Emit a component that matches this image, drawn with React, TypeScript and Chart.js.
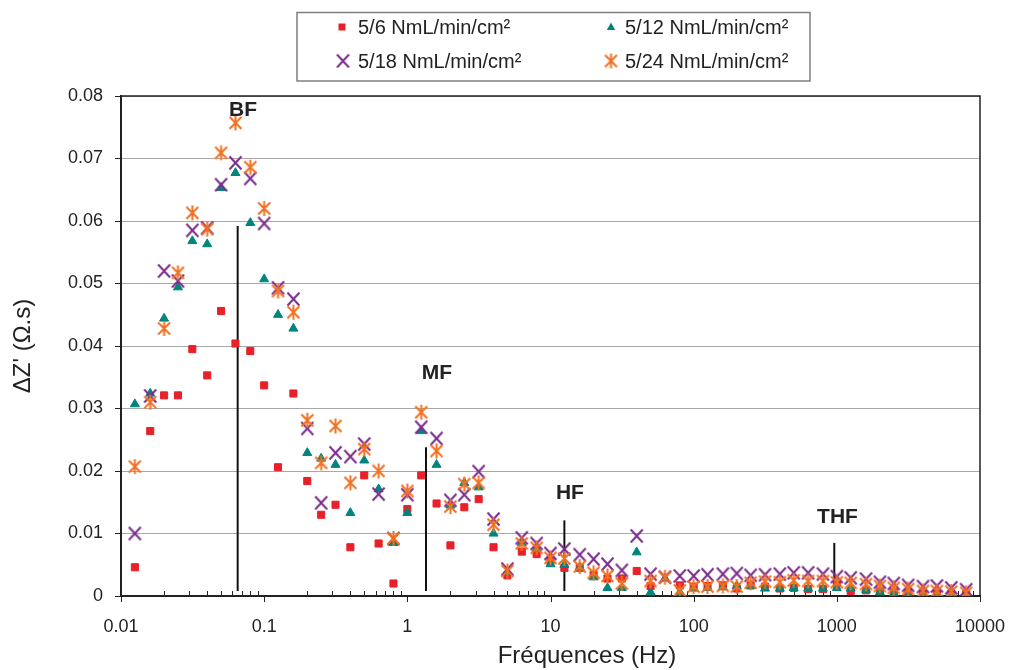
import React, { useEffect, useRef } from "react";
import { Chart, registerables } from "chart.js";

Chart.register(...registerables);

// ---------- data ----------
const frequencies = [
  0.0125, 0.016, 0.02, 0.025, 0.0315, 0.04, 0.05, 0.063, 0.08, 0.1,
  0.125, 0.16, 0.2, 0.25, 0.315, 0.4, 0.5, 0.63, 0.8, 1,
  1.25, 1.6, 2, 2.5, 3.15, 4, 5, 6.3, 8, 10,
  12.5, 16, 20, 25, 31.5, 40, 50, 63, 80, 100,
  125, 160, 200, 250, 315, 400, 500, 630, 800, 1000,
  1250, 1600, 2000, 2500, 3150, 4000, 5000, 6300, 8000,
];

const series5_6: (number | null)[] = [
  0.0046, 0.0264, 0.0321, 0.0321, 0.0395, 0.0353, 0.0456, 0.0404, 0.0392, 0.0337,
  0.0206, 0.0324, 0.0184, 0.013, 0.0146, 0.0078, 0.0193, 0.0084, 0.002, 0.0139,
  0.0193, 0.0148, 0.0081, 0.0142, 0.0155, 0.0078, 0.0033, 0.0071, 0.0067, 0.0056,
  0.0045, 0.0045, 0.0034, 0.0028, 0.0028, 0.004, 0.0016, null, 0.0017, 0.0015,
  0.0016, 0.0017, 0.0012, 0.0017, 0.0015, 0.0012, 0.0013, 0.0011, 0.0011, 0.002,
  0.0008, 0.0009, 0.0008, 0.0006, 0.0005, 0.0004, 0.0004, 0.0003, 0.0003,
];

const series5_12: (number | null)[] = [
  0.0307, 0.0324, 0.0444, 0.0494, 0.0568, 0.0563, 0.0653, 0.0677, 0.0597, 0.0507,
  0.045, 0.0428, 0.0229, 0.022, 0.021, 0.0133, 0.0217, 0.0171, 0.0085, 0.0133,
  0.0264, 0.021, 0.0145, 0.0181, 0.0174, 0.01, 0.0038, 0.0085, 0.0076, 0.0051,
  0.005, 0.0046, 0.003, 0.0013, 0.0013, 0.007, 0.0006, 0.0028, 0.0006, 0.0012,
  0.0013, 0.0014, 0.0016, 0.0016, 0.0012, 0.0012, 0.0013, 0.0012, 0.0012, 0.0013,
  0.0012, 0.001, 0.0006, 0.0004, 0.0001, 0.0, 0.0, 0.0001, 0.0002,
];

const series5_18: (number | null)[] = [
  0.01, 0.032, 0.052, 0.0504, 0.0585, 0.0589, 0.0658, 0.0693, 0.0668, 0.0596,
  0.0493, 0.0475, 0.0268, 0.0149, 0.0229, 0.0223, 0.0243, 0.0163, 0.0092, 0.0162,
  0.027, 0.0252, 0.0153, 0.0162, 0.0199, 0.0123, 0.0043, 0.0093, 0.0084, 0.0068,
  0.0075, 0.0066, 0.0059, 0.0051, 0.0041, 0.0096, 0.0035, 0.003, 0.0032, 0.0032,
  0.0034, 0.0035, 0.0036, 0.0033, 0.0034, 0.0035, 0.0037, 0.0037, 0.0035, 0.0031,
  0.0029, 0.0027, 0.0022, 0.002, 0.0017, 0.0015, 0.0016, 0.0013, 0.001,
];

const series5_24: (number | null)[] = [
  0.0207, 0.031, 0.0428, 0.0517, 0.0613, 0.0587, 0.0709, 0.0757, 0.0686, 0.062,
  0.0488, 0.0454, 0.0281, 0.0213, 0.0272, 0.0181, 0.0235, 0.02, 0.0092, 0.0168,
  0.0294, 0.0232, 0.0143, 0.0179, 0.0181, 0.0114, 0.004, 0.0084, 0.0077, 0.0061,
  0.006, 0.0047, 0.0037, 0.0032, 0.002, null, 0.0024, 0.003, 0.0009, 0.0015,
  0.0015, 0.0016, 0.0015, 0.0021, 0.0023, 0.0022, 0.0025, 0.0024, 0.0024, 0.0022,
  0.0021, 0.0019, 0.0016, 0.0013, 0.0011, 0.0008, 0.0008, 0.0007, 0.0005,
];

const seriesLabels = [
  "5/6 NmL/min/cm²",
  "5/12 NmL/min/cm²",
  "5/18 NmL/min/cm²",
  "5/24 NmL/min/cm²",
];

const xTickValues = [0.01, 0.1, 1, 10, 100, 1000, 10000];
const yTickValues = [0, 0.01, 0.02, 0.03, 0.04, 0.05, 0.06, 0.07, 0.08];

const bandNames = ["BF", "MF", "HF", "THF"];
const bandLineX = [0.0653, 1.35, 12.5, 960];
const bandLineBottom = [0.0008, 0.0008, 0.0008, 0.0008];
const bandLineTop = [0.0592, 0.0238, 0.0121, 0.0085];
const bandLabelX = [0.0711, 1.61, 13.66, 1011];
const bandLabelY = [0.0778, 0.0357, 0.0165, 0.0126];

const xTitle = "Fréquences (Hz)";
const yTitle = "ΔZ' (Ω.s)";

// ---------- styles ----------
const FONT = "'Liberation Sans', Arial, Helvetica, sans-serif";
const RED = "#e8202a";
const TEAL = "#00857c";
const PURPLE = "#7b2d8e";
const ORANGE = "#f37021";
const INK = "#222222";

function makeX(color: string, w = 13, h = 14, lw = 2) {
  const c = document.createElement("canvas");
  c.width = w + 2;
  c.height = h + 2;
  const ctx = c.getContext("2d")!;
  ctx.strokeStyle = color;
  ctx.lineWidth = lw;
  ctx.beginPath();
  ctx.moveTo(1.5, 1.5);
  ctx.lineTo(w + 0.5, h + 0.5);
  ctx.moveTo(w + 0.5, 1.5);
  ctx.lineTo(1.5, h + 0.5);
  ctx.stroke();
  return c;
}

function makeAsterisk(color: string, w = 13, h = 15, lw = 2) {
  const c = document.createElement("canvas");
  c.width = w + 2;
  c.height = h + 2;
  const ctx = c.getContext("2d")!;
  ctx.strokeStyle = color;
  ctx.lineWidth = lw;
  ctx.beginPath();
  ctx.moveTo(1.5, 2.5);
  ctx.lineTo(w + 0.5, h - 0.5);
  ctx.moveTo(w + 0.5, 2.5);
  ctx.lineTo(1.5, h - 0.5);
  ctx.moveTo((w + 2) / 2, 1);
  ctx.lineTo((w + 2) / 2, h + 1);
  ctx.stroke();
  return c;
}

function toPoints(values: (number | null)[]) {
  const pts: { x: number; y: number }[] = [];
  values.forEach((v, i) => {
    if (v !== null) pts.push({ x: frequencies[i], y: v });
  });
  return pts;
}

export default function App() {
  const canvasRef = useRef<HTMLCanvasElement | null>(null);

  useEffect(() => {
    document.body.style.margin = "0";
    const canvas = canvasRef.current;
    if (!canvas) return;

    const xMarker = makeX(PURPLE);
    const starMarker = makeAsterisk(ORANGE);

    const bandDatasets = bandNames.map((name, i) => ({
      type: "line" as const,
      label: name,
      data: [
        { x: bandLineX[i], y: bandLineBottom[i] },
        { x: bandLineX[i], y: bandLineTop[i] },
      ],
      borderColor: "#111",
      borderWidth: 2,
      pointRadius: 0,
      showLine: true,
      fill: false,
      order: 10,
    }));

    const decorPlugin = {
      id: "decor",
      beforeDatasetsDraw(chart: any) {
        const { ctx, chartArea } = chart;
        const xs = chart.scales.x;
        ctx.save();
        ctx.strokeStyle = INK;
        ctx.lineWidth = 1.5;
        ctx.strokeRect(chartArea.left, chartArea.top, chartArea.right - chartArea.left, chartArea.bottom - chartArea.top);
        ctx.lineWidth = 1;
        ctx.beginPath();
        for (let d = 0; d < xTickValues.length; d++) {
          const dec = xTickValues[d];
          const px = Math.round(xs.getPixelForValue(dec)) + 0.5;
          ctx.moveTo(px, chartArea.bottom);
          ctx.lineTo(px, chartArea.bottom + 6);
          if (d < xTickValues.length - 1) {
            for (let m = 2; m <= 9; m++) {
              const mp = Math.round(xs.getPixelForValue(dec * m)) + 0.5;
              ctx.moveTo(mp, chartArea.bottom);
              ctx.lineTo(mp, chartArea.bottom - 5);
            }
          }
        }
        ctx.stroke();
        ctx.restore();
      },
      afterDraw(chart: any) {
        const { ctx } = chart;
        const xs = chart.scales.x;
        const ys = chart.scales.y;
        ctx.save();
        ctx.fillStyle = INK;
        ctx.font = `bold 21px ${FONT}`;
        ctx.textAlign = "center";
        ctx.textBaseline = "middle";
        bandNames.forEach((n, i) => {
          ctx.fillText(n, xs.getPixelForValue(bandLabelX[i]), ys.getPixelForValue(bandLabelY[i]));
        });
        ctx.font = `24px ${FONT}`;
        ctx.textBaseline = "alphabetic";
        ctx.fillText(xTitle, 587, 663);
        ctx.strokeStyle = "#7f7f7f";
        ctx.lineWidth = 1.5;
        ctx.strokeRect(297, 12.5, 513, 68.5);
        ctx.font = `20px ${FONT}`;
        ctx.textAlign = "left";
        ctx.textBaseline = "middle";
        const textX = [358, 625, 358, 625];
        const rowY = [27, 27, 61, 61];
        const markX = [342, 611, 343, 611];
        seriesLabels.forEach((t, i) => {
          ctx.fillStyle = INK;
          ctx.fillText(t, textX[i], rowY[i] + 1);
        });
        ctx.fillStyle = RED;
        ctx.fillRect(markX[0] - 3.5, rowY[0] - 3.5, 7, 7);
        ctx.fillStyle = TEAL;
        ctx.beginPath();
        ctx.moveTo(markX[1], rowY[1] - 4.5);
        ctx.lineTo(markX[1] + 4.2, rowY[1] + 3);
        ctx.lineTo(markX[1] - 4.2, rowY[1] + 3);
        ctx.closePath();
        ctx.fill();
        ctx.drawImage(xMarker, markX[2] - xMarker.width / 2, rowY[2] - xMarker.height / 2);
        ctx.drawImage(starMarker, markX[3] - starMarker.width / 2, rowY[3] - starMarker.height / 2);
        ctx.restore();
      },
    };

    const chart = new Chart(canvas, {
      type: "scatter",
      data: {
        datasets: [
          ...bandDatasets,
          {
            label: seriesLabels[0],
            data: toPoints(series5_6),
            pointStyle: "rect",
            pointRadius: 5,
            pointHoverRadius: 5,
            backgroundColor: RED,
            borderColor: RED,
            borderWidth: 1,
            order: 4,
          },
          {
            label: seriesLabels[1],
            data: toPoints(series5_12),
            pointStyle: "triangle",
            pointRadius: 5.2,
            pointHoverRadius: 5.2,
            backgroundColor: TEAL,
            borderColor: TEAL,
            borderWidth: 1,
            order: 3,
          },
          {
            label: seriesLabels[2],
            data: toPoints(series5_18),
            pointStyle: xMarker,
            pointRadius: 7,
            backgroundColor: PURPLE,
            borderColor: PURPLE,
            order: 2,
          },
          {
            label: seriesLabels[3],
            data: toPoints(series5_24),
            pointStyle: starMarker,
            pointRadius: 7,
            backgroundColor: ORANGE,
            borderColor: ORANGE,
            order: 1,
          },
        ] as any,
      },
      options: {
        animation: false,
        responsive: false,
        devicePixelRatio: 1,
        layout: { padding: { left: 0, right: 34, top: 96, bottom: 0 } },
        plugins: {
          legend: { display: false },
          tooltip: { enabled: false },
        },
        scales: {
          x: {
            type: "logarithmic",
            min: 0.01,
            max: 10000,
            afterBuildTicks: (scale: any) => {
              scale.ticks = xTickValues.map((v) => ({ value: v, major: true }));
            },
            afterFit: (scale: any) => {
              scale.height = 74;
              scale.paddingLeft = 0;
              scale.paddingRight = 0;
            },
            grid: { display: false, drawTicks: false },
            border: { display: true, color: INK, width: 2 },
            ticks: {
              autoSkip: false,
              maxRotation: 0,
              minRotation: 0,
              padding: 20,
              color: INK,
              font: { family: FONT, size: 18 },
              callback: (v: any) => String(v),
            },
          },
          y: {
            type: "linear",
            min: 0,
            max: 0.08,
            afterBuildTicks: (scale: any) => {
              scale.ticks = yTickValues.map((v) => ({ value: v }));
            },
            afterFit: (scale: any) => {
              scale.width = 121;
              scale.paddingTop = 0;
              scale.paddingBottom = 0;
            },
            grid: {
              color: "#a8a8a8",
              lineWidth: 1,
              drawTicks: true,
              tickLength: 6,
              tickColor: INK,
            },
            border: { display: true, color: INK, width: 2 },
            ticks: {
              padding: 12,
              color: INK,
              font: { family: FONT, size: 18 },
              callback: (v: any) => (Number(v) === 0 ? "0" : Number(v).toFixed(2)),
            },
            title: {
              display: true,
              text: yTitle,
              color: INK,
              font: { family: FONT, size: 24 },
              padding: { top: 9, bottom: 0 },
            },
          },
        },
      } as any,
      plugins: [decorPlugin],
    });

    return () => {
      chart.destroy();
    };
  }, []);

  return (
    <div style={{ position: "relative", width: 1014, height: 670, background: "#fff" }}>
      <canvas ref={canvasRef} width={1014} height={670} style={{ width: 1014, height: 670, display: "block" }} />
    </div>
  );
}
